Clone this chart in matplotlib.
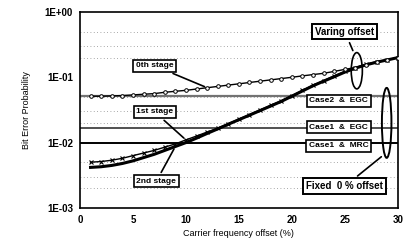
import numpy as np
import matplotlib.pyplot as plt
from matplotlib.patches import Ellipse

offset = list(range(1, 31))
stage0 = [0.0513, 0.0513, 0.0519, 0.0525, 0.0537, 0.0550, 0.0562, 0.0589, 0.0610, 0.0631,
          0.0661, 0.0692, 0.0724, 0.0759, 0.0794, 0.0832, 0.0871, 0.0912, 0.0955, 0.100,
          0.105, 0.110, 0.115, 0.123, 0.132, 0.141, 0.155, 0.170, 0.184, 0.200]
stage1 = [0.00501, 0.00513, 0.00537, 0.00575, 0.00631, 0.00692, 0.00759, 0.00851, 0.00955, 0.0110,
          0.0126, 0.0145, 0.0166, 0.0195, 0.0229, 0.0269, 0.0316, 0.0372, 0.0437, 0.0525,
          0.0631, 0.0759, 0.0891, 0.105, 0.123, 0.141, 0.158, 0.174, 0.186, 0.200]
stage2 = [0.00417, 0.00427, 0.00447, 0.00479, 0.00525, 0.00589, 0.00661, 0.00759, 0.00871, 0.0100,
          0.0117, 0.0138, 0.0162, 0.0191, 0.0224, 0.0263, 0.0309, 0.0363, 0.0427, 0.0513,
          0.0617, 0.0741, 0.0871, 0.102, 0.120, 0.138, 0.155, 0.170, 0.184, 0.200]
case2_egc = 0.0508
case1_egc = 0.0165
case1_mrc = 0.0098

xticks = [0, 5, 10, 15, 20, 25, 30]
yticks = [1e-3, 1e-2, 1e-1, 1e0]
ylabels = ['1E-03', '1E-02', '1E-01', '1E+00']

plt.rcParams['font.family'] = ['Liberation Sans', 'DejaVu Sans']

fig = plt.figure(figsize=(4.08, 2.49), dpi=100)
ax = fig.add_axes([0.196, 0.165, 0.779, 0.787])
ax.set_yscale('log')
ax.set_xlim(0, 30)
ax.set_ylim(1e-3, 1)

# reference lines (fixed 0% offset)
ax.axhline(case2_egc, color='0.45', lw=1.6, zorder=2)
ax.axhline(case1_egc, color='0.2', lw=1.2, zorder=2)
ax.axhline(case1_mrc, color='k', lw=1.4, zorder=2)

# varying offset curves
ax.plot(offset, stage2, color='k', lw=2.2, zorder=3)
ax.plot(offset, stage1, color='k', lw=1.0, marker='x', ms=3, mew=0.8, zorder=4)
ax.plot(offset, stage0, color='k', lw=1.0, marker='o', ms=2.6, mfc='white', mew=0.7, zorder=4)

ax.set_xticks(xticks)
ax.set_yticks(yticks)
ax.set_yticklabels(ylabels)
ax.minorticks_off()
ax.tick_params(length=0, labelsize=7, pad=5)
for t in ax.get_xticklabels() + ax.get_yticklabels():
    t.set_fontweight('bold')
for yv in [2e-3, 3e-3, 5e-3, 2e-2, 3e-2, 5e-2, 2e-1, 3e-1, 5e-1]:
    ax.axhline(yv, color='0.55', lw=0.6, ls=(0, (1, 3)), zorder=1)
for s in ax.spines.values():
    s.set_linewidth(1.2)

ax.set_ylabel('Bit Error Probability', fontsize=6.5, labelpad=10)
ax.set_xlabel('Carrier frequency offset (%)', fontsize=6.5, labelpad=3)

box = dict(boxstyle='square,pad=0.3', fc='white', ec='k', lw=1.2)
akw = dict(arrowstyle='-', color='k', lw=1.2)
tkw = dict(fontsize=6, fontweight='bold', ha='center', va='center', bbox=box, zorder=6)
bkw = dict(tkw, fontsize=7, bbox=dict(box, lw=1.4))

ax.annotate('0th stage', xy=(12, stage0[11]), xytext=(0.235, 0.725),
            textcoords='axes fraction', arrowprops=akw, **tkw)
ax.annotate('1st stage', xy=(10, stage1[9]), xytext=(0.235, 0.490),
            textcoords='axes fraction', arrowprops=akw, **tkw)
ax.annotate('2nd stage', xy=(9, stage2[8]), xytext=(0.240, 0.135),
            textcoords='axes fraction', arrowprops=akw, **tkw)

ax.add_patch(Ellipse((0.871, 0.70), 0.035, 0.185, transform=ax.transAxes,
                     fill=False, ec='k', lw=1.2, zorder=5))
ax.add_patch(Ellipse((0.965, 0.434), 0.030, 0.357, transform=ax.transAxes,
                     fill=False, ec='k', lw=1.4, zorder=5))
ax.annotate('Varing offset', xy=(0.862, 0.79), xycoords='axes fraction',
            xytext=(0.833, 0.900), textcoords='axes fraction', arrowprops=akw, **bkw)
ax.annotate('Fixed  0 % offset', xy=(0.955, 0.27), xycoords='axes fraction',
            xytext=(0.833, 0.110), textcoords='axes fraction', arrowprops=akw, **bkw)

ax.text(0.814, 0.546, 'Case2  &  EGC', transform=ax.transAxes, **tkw)
ax.text(0.814, 0.411, 'Case1  &  EGC', transform=ax.transAxes, **tkw)
ax.text(0.814, 0.316, 'Case1  &  MRC', transform=ax.transAxes, **tkw)

fig.savefig('out.png', dpi=100)
